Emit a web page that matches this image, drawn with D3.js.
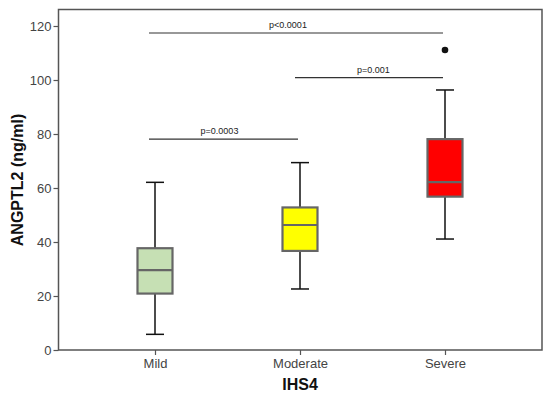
<!DOCTYPE html>
<html><head><meta charset="utf-8">
<script src="https://cdn.jsdelivr.net/npm/d3@7"></script>
<style>body{margin:0;background:#fff}svg{display:block}</style>
</head><body>
<svg id="c" width="550" height="396"></svg>
<script>
const categories = ["Mild", "Moderate", "Severe"];
const whiskerLow  = [5.8, 22.6, 41.1];
const q1          = [20.9, 36.7, 56.8];
const medians     = [29.6, 46.3, 62.2];
const q3          = [37.7, 52.8, 78.1];
const whiskerHigh = [62.1, 69.4, 96.3];
const fills       = ["#c6e0b4", "#ffff00", "#ff0000"];
const outliers    = [{cat: "Severe", value: 111.1}];
const yTicks      = [0, 20, 40, 60, 80, 100, 120];
const comparisons = [
  {from: "Mild", to: "Severe", y: 117.4, label: "p<0.0001"},
  {from: "Moderate", to: "Severe", y: 100.9, label: "p=0.001"},
  {from: "Mild", to: "Moderate", y: 78.1, label: "p=0.0003"}
];
const labelShift = [-8, 4.5, -4];

const FONT = "Arial, 'Liberation Sans', sans-serif";
const svg = d3.select("#c");
const L = 58.5, R = 542, T = 9.5, B = 350;
const y = d3.scaleLinear().domain([0, 120]).range([350, 26]);
const x = d3.scalePoint().domain(categories).range([155, 445]);
const boxW = 35;

// frame
svg.append("rect").attr("x", L).attr("y", T).attr("width", R - L).attr("height", B - T)
  .attr("fill", "none").attr("stroke", "#555").attr("stroke-width", 1.5);

// y axis
const yAxis = svg.append("g").attr("transform", `translate(${L},0)`)
  .call(d3.axisLeft(y).tickValues(yTicks).tickSize(5).tickPadding(2));
yAxis.select(".domain").remove();
yAxis.selectAll("line").attr("stroke", "#555").attr("stroke-width", 1.2);
yAxis.selectAll("text").attr("font-family", FONT).attr("font-size", 13).attr("fill", "#444");

// x axis
const xAxis = svg.append("g").attr("transform", `translate(0,${B})`)
  .call(d3.axisBottom(x).tickSize(5).tickPadding(4));
xAxis.select(".domain").remove();
xAxis.selectAll("line").attr("stroke", "#555").attr("stroke-width", 1.2);
xAxis.selectAll("text").attr("font-family", FONT).attr("font-size", 13).attr("fill", "#444");

// axis titles
svg.append("text").attr("x", 300).attr("y", 390).attr("text-anchor", "middle")
  .attr("font-family", FONT).attr("font-weight", "bold")
  .attr("font-size", 16).attr("fill", "#111").text("IHS4");
svg.append("text").attr("transform", `translate(22.5,180) rotate(-90)`)
  .attr("text-anchor", "middle")
  .attr("font-family", FONT).attr("font-weight", "bold")
  .attr("font-size", 16).attr("fill", "#111").text("ANGPTL2 (ng/ml)");

// boxes
const data = categories.map((c, i) => ({c, lo: whiskerLow[i], q1: q1[i], med: medians[i], q3: q3[i], hi: whiskerHigh[i], fill: fills[i]}));
const g = svg.append("g");
data.forEach(d => {
  const cx = x(d.c);
  g.append("line").attr("x1", cx).attr("x2", cx).attr("y1", y(d.hi)).attr("y2", y(d.q3))
    .attr("stroke", "#111").attr("stroke-width", 1.5);
  g.append("line").attr("x1", cx).attr("x2", cx).attr("y1", y(d.q1)).attr("y2", y(d.lo))
    .attr("stroke", "#111").attr("stroke-width", 1.5);
  [d.hi, d.lo].forEach(v => g.append("line").attr("x1", cx - 9).attr("x2", cx + 9)
    .attr("y1", y(v)).attr("y2", y(v)).attr("stroke", "#111").attr("stroke-width", 1.5));
  g.append("rect").attr("x", cx - boxW / 2).attr("y", y(d.q3)).attr("width", boxW)
    .attr("height", y(d.q1) - y(d.q3)).attr("fill", d.fill).attr("stroke", "#666").attr("stroke-width", 2.2);
  g.append("line").attr("x1", cx - boxW / 2).attr("x2", cx + boxW / 2).attr("y1", y(d.med)).attr("y2", y(d.med))
    .attr("stroke", "#666").attr("stroke-width", 2.2);
});
outliers.forEach(o => g.append("circle").attr("cx", x(o.cat)).attr("cy", y(o.value)).attr("r", 3.3).attr("fill", "#111"));

// comparisons
comparisons.forEach((cmp, i) => {
  const x1 = x(cmp.from) - (cmp.from === "Moderate" ? 5 : 6), x2 = x(cmp.to) - 2;
  svg.append("line").attr("x1", x1).attr("x2", x2).attr("y1", y(cmp.y)).attr("y2", y(cmp.y))
    .attr("stroke", "#333").attr("stroke-width", 1.2);
  svg.append("text").attr("x", (x1 + x2) / 2 + labelShift[i]).attr("y", y(cmp.y) - 5).attr("text-anchor", "middle")
    .attr("font-family", FONT).attr("font-size", 9).attr("fill", "#222")
    .text(cmp.label);
});
</script>
</body></html>
